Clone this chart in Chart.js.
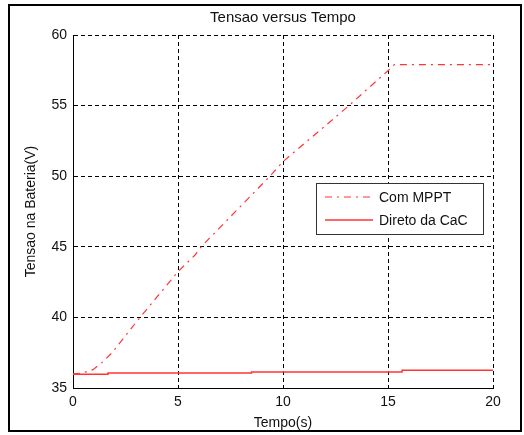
<!DOCTYPE html>
<html lang="pt">
<head>
    <meta charset="UTF-8">
    <title>Tensao versus Tempo</title>
    <script src="https://cdn.jsdelivr.net/npm/chart.js"></script>
    <style>
        body { margin: 0; background: #fff; }
        canvas { display: block; }
    </style>
</head>
<body>
    <canvas id="tensaoChart" width="524" height="435"></canvas>

    <script>
        // Com MPPT (dash-dot)
        const mpptTempo = [0, 0.43, 0.95, 1.43, 1.86, 2.5, 3.19, 4, 5, 5.8, 6.1, 7, 8, 9.38, 10, 11, 12, 13.14, 14, 15, 15.3, 20];
        const mpptTensao = [36.0, 36.06, 36.3, 36.87, 37.5, 38.7, 40, 41.45, 43.24, 44.4, 45, 46.37, 47.9, 50, 51.03, 52.3, 53.55, 55, 56.15, 57.47, 57.9, 57.9];

        // Direto da CaC (solid, small steps)
        const diretoTempo = [0, 1.67, 1.67, 8.5, 8.5, 15.67, 15.67, 20];
        const diretoTensao = [35.98, 35.98, 36.06, 36.06, 36.13, 36.13, 36.25, 36.25];

        const xTicks = [0, 5, 10, 15, 20];
        const yTicks = [35, 40, 45, 50, 55, 60];

        const FONT = "'Liberation Sans', Arial, sans-serif";

        function toPoints(xs, ys) {
            return xs.map((x, i) => ({ x: x, y: ys[i] }));
        }

        // white page + outer frame + legend inside the plot
        const figurePlugin = {
            id: 'figure',
            beforeDraw(chart) {
                const ctx = chart.ctx;
                ctx.save();
                ctx.fillStyle = '#ffffff';
                ctx.fillRect(0, 0, chart.width, chart.height);
                ctx.restore();
            },
            afterDraw(chart) {
                const ctx = chart.ctx;
                ctx.save();
                ctx.strokeStyle = '#000';
                ctx.lineWidth = 2;
                ctx.strokeRect(9, 5, 512, 426);

                // legend box
                const bx = 316.5, by = 183.5, bw = 167, bh = 51;
                ctx.fillStyle = '#fff';
                ctx.fillRect(bx, by, bw, bh);
                ctx.lineWidth = 1;
                ctx.strokeStyle = '#333';
                ctx.strokeRect(bx, by, bw, bh);

                chart.data.datasets.forEach((ds, i) => {
                    const y = 197 + i * 23;
                    ctx.strokeStyle = ds.borderColor;
                    ctx.lineWidth = ds.borderWidth;
                    ctx.setLineDash(ds.borderDash || []);
                    ctx.beginPath();
                    ctx.moveTo(325, y);
                    ctx.lineTo(373, y);
                    ctx.stroke();
                    ctx.setLineDash([]);
                    ctx.fillStyle = '#111';
                    ctx.font = '14px ' + FONT;
                    ctx.textBaseline = 'middle';
                    ctx.textAlign = 'left';
                    ctx.fillText(ds.label, 379, y + 1);
                });
                ctx.restore();
            }
        };

        const ctx = document.getElementById('tensaoChart').getContext('2d');
        new Chart(ctx, {
            type: 'line',
            data: {
                datasets: [{
                    label: 'Com MPPT',
                    data: toPoints(mpptTempo, mpptTensao),
                    borderColor: '#ff3535',
                    borderWidth: 1.2,
                    borderDash: [7, 5, 2, 5],
                    pointRadius: 0,
                    tension: 0,
                    fill: false
                }, {
                    label: 'Direto da CaC',
                    data: toPoints(diretoTempo, diretoTensao),
                    borderColor: '#ff3535',
                    borderWidth: 1.5,
                    pointRadius: 0,
                    tension: 0,
                    fill: false
                }]
            },
            options: {
                responsive: false,
                animation: false,
                layout: { padding: { left: 0, right: 31, top: 0, bottom: 0 } },
                plugins: {
                    legend: { display: false },
                    tooltip: { enabled: false },
                    title: {
                        display: true,
                        text: 'Tensao versus Tempo',
                        fullSize: false,
                        color: '#111',
                        font: { family: FONT, size: 15, weight: 'normal', lineHeight: 1.2 },
                        padding: { top: 9, bottom: 8 }
                    }
                },
                scales: {
                    x: {
                        type: 'linear',
                        min: 0,
                        max: 20,
                        afterBuildTicks(scale) {
                            scale.ticks = xTicks.map(v => ({ value: v }));
                        },
                        afterFit(scale) { scale.height = 47; },
                        grid: { color: '#000', lineWidth: 1, drawTicks: false },
                        border: { display: true, color: '#000', width: 1, dash: [4, 3] },
                        ticks: {
                            color: '#111',
                            padding: 6,
                            maxRotation: 0,
                            font: { family: FONT, size: 14 }
                        },
                        title: {
                            display: true,
                            text: 'Tempo(s)',
                            color: '#111',
                            font: { family: FONT, size: 14, lineHeight: 1.2 },
                            padding: { top: 0, bottom: 3 }
                        }
                    },
                    y: {
                        type: 'linear',
                        min: 35,
                        max: 60,
                        afterBuildTicks(scale) {
                            scale.ticks = yTicks.map(v => ({ value: v }));
                        },
                        afterFit(scale) { scale.width = 73; },
                        grid: { color: '#000', lineWidth: 1, drawTicks: false },
                        border: { display: true, color: '#000', width: 1, dash: [4, 3] },
                        ticks: {
                            color: '#111',
                            padding: 6,
                            font: { family: FONT, size: 14 }
                        },
                        title: {
                            display: true,
                            text: 'Tensao na Bateria(V)',
                            color: '#111',
                            font: { family: FONT, size: 14, lineHeight: 1.2 },
                            padding: { top: 23, bottom: 0 }
                        }
                    }
                }
            },
            plugins: [figurePlugin]
        });
    </script>
</body>
</html>
